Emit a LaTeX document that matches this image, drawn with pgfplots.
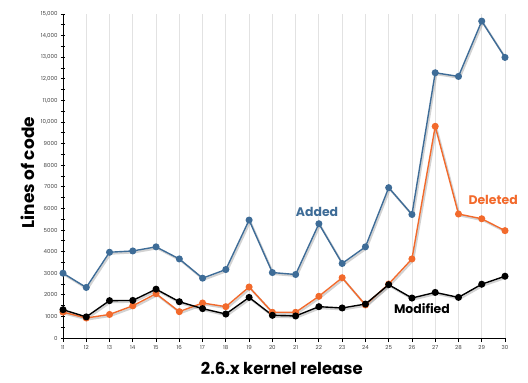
\documentclass[border=0pt]{standalone}
\usepackage{fontspec}
\setmainfont{Poppins}
\usepackage{pgfplots}
\pgfplotsset{compat=1.18}
\definecolor{addblue}{HTML}{3E6C97}
\definecolor{delorange}{HTML}{F26A2C}
\definecolor{gridgray}{HTML}{E2E2E2}
\definecolor{ticktext}{HTML}{444444}
\begin{document}
\begin{tikzpicture}
\begin{axis}[
  name=ax,
  scale only axis,
  width=442bp, height=324bp,
  xmin=11, xmax=30, ymin=0, ymax=15000,
  axis lines=left,
  axis line style={black, line width=0.9pt, -},
  scaled y ticks=false,
  xtick={11,...,30},
  ytick={0,1000,...,15000},
  yticklabels={0,1000,2000,3000,4000,5000,6000,7000,8000,9000,{10,000},{11,000},{12,000},{13,000},{14,000},{15,000}},
  minor ytick={500,1500,...,14500},
  xmajorgrids,
  major x grid style={gridgray, line width=0.8pt},
  ytick align=center,
  xtick align=outside,
  major tick length=4bp,
  minor tick length=4bp,
  tick style={black, line width=0.8pt},
  /pgf/number format/assume math mode=true,
  ticklabel style={font=\fontsize{5.5}{6}\selectfont, text=ticktext},
  xticklabel style={yshift=0bp},
  yticklabel style={xshift=0bp},
  xlabel={2.6.x kernel release},
  ylabel={Lines of code},
  xlabel style={font=\fontsize{16.5}{18}\selectfont\bfseries, at={(rel axis cs:0.495,-0.093)}, anchor=center},
  ylabel style={font=\fontsize{17}{18}\selectfont\bfseries, at={(rel axis cs:-0.079,0.51)}, anchor=center, rotate=0},
  clip=false,
  every axis plot/.append style={line width=1.4pt, mark=*, mark size=2.8pt},
]
% shadows
\addplot[black!35, opacity=0.5, line width=2pt, mark=none, transform canvas={shift={(1.2pt,-1.5pt)}}] coordinates {
(11,3000) (12,2340) (13,3970) (14,4030) (15,4220) (16,3660) (17,2770) (18,3170) (19,5460) (20,3030)
(21,2940) (22,5290) (23,3450) (24,4220) (25,6960) (26,5720) (27,12280) (28,12110) (29,14670) (30,12990)};
\addplot[black!35, opacity=0.5, line width=2pt, mark=none, transform canvas={shift={(1.2pt,-1.5pt)}}] coordinates {
(11,1200) (12,925) (13,1090) (14,1490) (15,2050) (16,1220) (17,1620) (18,1450) (19,2360) (20,1190)
(21,1190) (22,1930) (23,2790) (24,1530) (25,2500) (26,3660) (27,9800) (28,5740) (29,5520) (30,4970)};
\addplot[black!35, opacity=0.5, line width=2pt, mark=none, transform canvas={shift={(1.2pt,-1.5pt)}}] coordinates {
(11,1310) (12,977) (13,1730) (14,1740) (15,2260) (16,1680) (17,1360) (18,1110) (19,1880) (20,1050)
(21,1020) (22,1450) (23,1390) (24,1570) (25,2470) (26,1850) (27,2110) (28,1880) (29,2490) (30,2860)};
% Added
\addplot[addblue, mark options={fill=addblue}] coordinates {
(11,3000) (12,2340) (13,3970) (14,4030) (15,4220) (16,3660) (17,2770) (18,3170) (19,5460) (20,3030)
(21,2940) (22,5290) (23,3450) (24,4220) (25,6960) (26,5720) (27,12280) (28,12110) (29,14670) (30,12990)};
% Deleted
\addplot[delorange, mark options={fill=delorange}] coordinates {
(11,1200) (12,925) (13,1090) (14,1490) (15,2050) (16,1220) (17,1620) (18,1450) (19,2360) (20,1190)
(21,1190) (22,1930) (23,2790) (24,1530) (25,2500) (26,3660) (27,9800) (28,5740) (29,5520) (30,4970)};
% Modified
\addplot[black, mark options={fill=black}] coordinates {
(11,1310) (12,977) (13,1730) (14,1740) (15,2260) (16,1680) (17,1360) (18,1110) (19,1880) (20,1050)
(21,1020) (22,1450) (23,1390) (24,1570) (25,2470) (26,1850) (27,2110) (28,1880) (29,2490) (30,2860)};
\node[text=addblue, font=\fontsize{12.5}{14}\selectfont\bfseries] at (axis cs:21.92,5840) {Added};
\node[text=delorange, font=\fontsize{12.5}{14}\selectfont\bfseries] at (axis cs:29.49,6390) {Deleted};
\node[text=black, font=\fontsize{12.5}{14}\selectfont\bfseries] at (axis cs:26.43,1355) {Modified};
\end{axis}
\pgfresetboundingbox
\path (ax.south west) ++(-63bp,-45bp) rectangle ++(528bp,383bp);
\end{tikzpicture}
\end{document}
